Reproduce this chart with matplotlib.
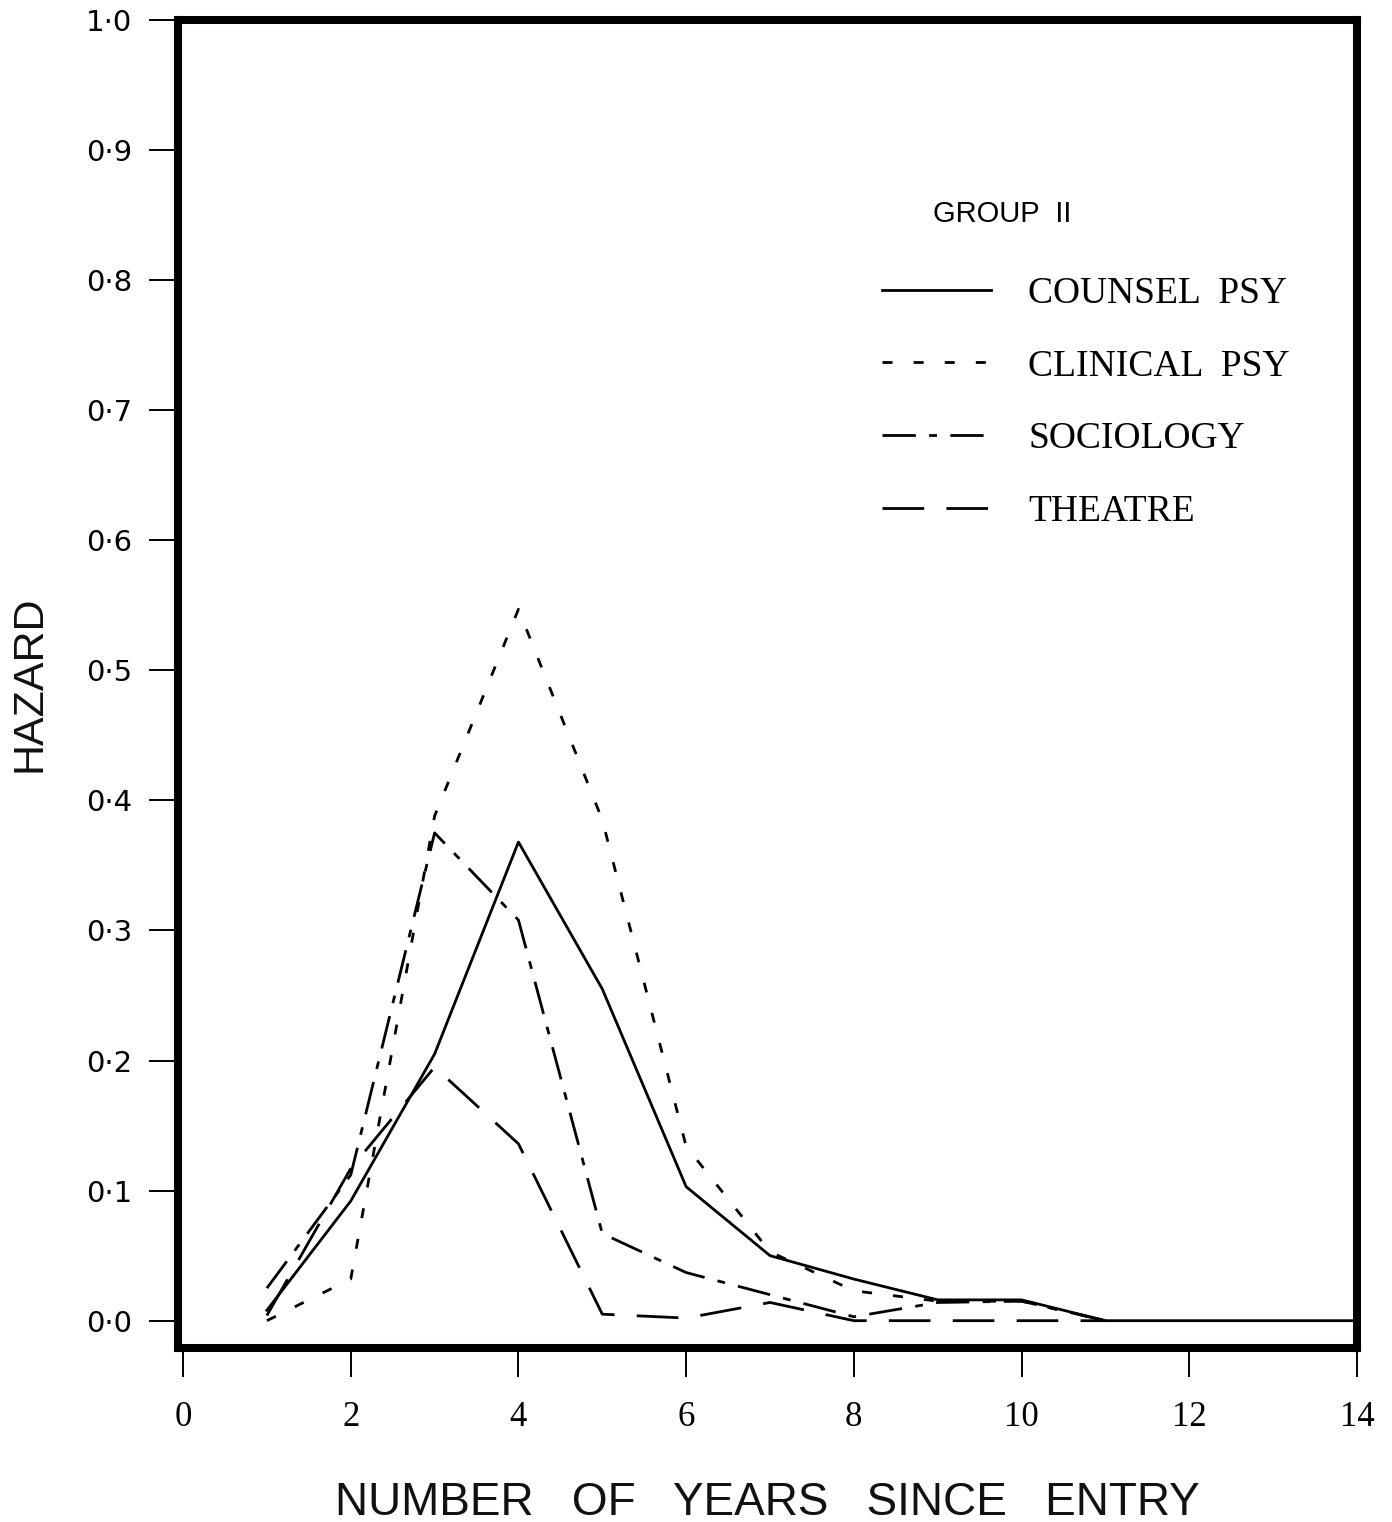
import matplotlib
matplotlib.use("Agg")
import matplotlib.pyplot as plt

# hazard by number of years since entry (Group II)
years_counsel = [1, 2, 3, 4, 5, 6, 7, 8, 9, 10, 11, 12, 13, 14]
counsel_psy = [0.008, 0.092, 0.205, 0.368, 0.255, 0.103, 0.05, 0.032, 0.016, 0.016, 0.0, 0.0, 0.0, 0.0]

years = [1, 2, 3, 4, 5, 6, 7, 8, 9, 10, 11]
clinical_psy = [0.0, 0.032, 0.388, 0.547, 0.385, 0.134, 0.053, 0.023, 0.015, 0.015, 0.0]
sociology = [0.025, 0.112, 0.375, 0.308, 0.067, 0.037, 0.02, 0.003, 0.014, 0.015, 0.0]
theatre = [0.004, 0.117, 0.195, 0.136, 0.005, 0.002, 0.014, 0.0, 0.0, 0.0, 0.0]

x_ticks = [0, 2, 4, 6, 8, 10, 12, 14]
y_ticks = [0.0, 0.1, 0.2, 0.3, 0.4, 0.5, 0.6, 0.7, 0.8, 0.9, 1.0]
y_tick_labels = ["0·0", "0·1", "0·2", "0·3", "0·4", "0·5", "0·6", "0·7", "0·8", "0·9", "1·0"]

legend_title = "GROUP  II"
labels = ["COUNSEL  PSY", "CLINICAL  PSY", "SOCIOLOGY", "THEATRE"]

LW = 2.0
styles = [
    "-",
    (0, (3.6, 7.6)),
    (0, (12, 4.8, 2.8, 4.8)),
    (0, (15, 8)),
]

fig = plt.figure(figsize=(13.92, 15.22), dpi=100)
W, H = 1392, 1522
ax = fig.add_axes([178 / W, 1 - 1348 / H, (1357 - 178) / W, (1348 - 20) / H])

lines = []
series = [(years_counsel, counsel_psy), (years, clinical_psy), (years, sociology), (years, theatre)]
for (xs, ys), ls in zip(series, styles):
    ln, = ax.plot(xs, ys, color="black", lw=LW, linestyle=ls, dash_capstyle="butt")
    lines.append(ln)

ax.set_xlim(-0.06, 14.0)
ax.set_ylim(-0.021, 1.0)

for sp in ax.spines.values():
    sp.set_linewidth(5.8)
    sp.set_color("black")

ax.set_xticks(x_ticks)
ax.set_xticklabels([str(t) for t in x_ticks], family="Liberation Serif", fontsize=25)
ax.set_yticks(y_ticks)
ax.set_yticklabels(y_tick_labels, family="DejaVu Sans", fontsize=21)
ax.tick_params(axis="both", direction="out", length=21, width=1.4, color="black")
ax.tick_params(axis="x", pad=17)
ax.tick_params(axis="y", pad=12)

ax.set_xlabel("NUMBER   OF   YEARS   SINCE   ENTRY", family="Liberation Sans",
              fontsize=33, labelpad=34, color="#111111")
ax.set_ylabel("HAZARD", family="Liberation Sans", fontsize=31, labelpad=26, color="#111111")

ax.text((933 - 178) / 1179, (1348 - 222) / 1328, legend_title, transform=ax.transAxes,
        family="Liberation Sans", fontsize=21, va="baseline", ha="left")

leg = ax.legend(lines, labels, loc="upper left", bbox_to_anchor=(0.597, 0.807),
                frameon=False, borderaxespad=0, borderpad=0,
                prop={"family": "Liberation Serif", "size": 27},
                handlelength=2.9, handletextpad=1.0, labelspacing=1.02)

fig.savefig("out.png", dpi=100, facecolor="white")
